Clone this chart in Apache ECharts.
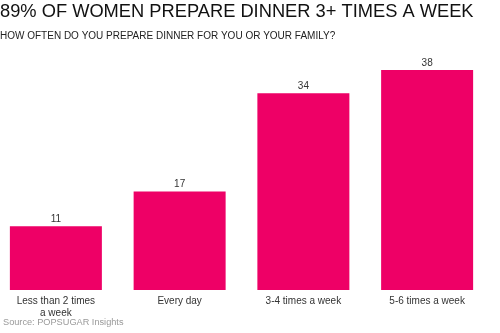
<!DOCTYPE html>
<html><head><meta charset="utf-8">
<script src="https://cdn.jsdelivr.net/npm/echarts@6/dist/echarts.min.js"></script>
<style>html,body{margin:0;padding:0;background:#fff;overflow:hidden}#c{width:506px;height:333px;position:relative;left:-6px}</style>
</head><body><div id="c"></div>
<script>
const categories = ["Less than 2 times\na week", "Every day", "3-4 times a week", "5-6 times a week"];
const values = [11, 17, 34, 38];
const titleText = "89% OF WOMEN PREPARE DINNER 3+ TIMES A WEEK";
const subtitleText = "HOW OFTEN DO YOU PREPARE DINNER FOR YOU OR YOUR FAMILY?";
const sourceText = "Source: POPSUGAR Insights";

const chart = echarts.init(document.getElementById('c'));
chart.setOption({
  animation: false,
  title: [
    {text: titleText, left: 6, top: 3, padding: 0, textStyle: {fontFamily: 'Liberation Sans', fontSize: 18.3, fontWeight: 'normal', color: '#111'}},
    {text: subtitleText, left: 6, top: 31, padding: 0, textStyle: {fontFamily: 'Liberation Sans', fontSize: 10, fontWeight: 'normal', color: '#222'}},
    {text: sourceText, left: 9, top: 318, padding: 0, textStyle: {fontFamily: 'Liberation Sans', fontSize: 9.2, fontWeight: 'normal', color: '#999'}}
  ],
  grid: {left: 0, right: 11, top: 70, bottom: 43, containLabel: false},
  xAxis: {
    type: 'category', data: categories,
    axisLine: {show: false}, axisTick: {show: false},
    axisLabel: {fontFamily: 'Liberation Sans', fontSize: 10, color: '#333', margin: 5, lineHeight: 12, interval: 0}
  },
  yAxis: {type: 'value', min: 0, max: 38, show: false, splitLine: {show: false}},
  series: [{
    type: 'bar', data: values, barWidth: 92,
    itemStyle: {color: '#EE0066'},
    label: {show: true, position: 'top', distance: 2, fontFamily: 'Liberation Sans', fontSize: 10, color: '#333'}
  }]
});
</script></body></html>
